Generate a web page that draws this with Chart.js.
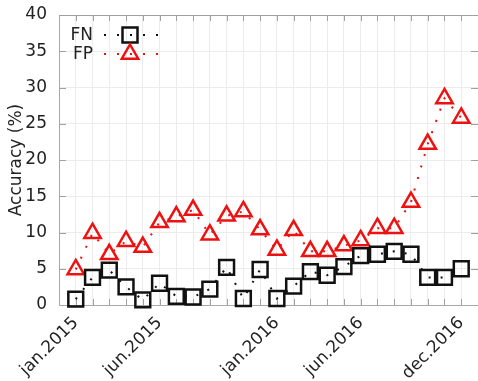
<!DOCTYPE html>
<html>
<head>
<meta charset="utf-8">
<script src="https://cdn.jsdelivr.net/npm/chart.js@4.4.1/dist/chart.umd.min.js"></script>
<style>
  html, body { margin: 0; padding: 0; background: #fff; }
  #wrap { width: 478px; height: 381px; position: relative; }
</style>
</head>
<body>
<div id="wrap"><canvas id="accChart"></canvas></div>
<script>
// monthly error rates, jan.2015 .. dec.2016
const months = ['jan.2015', 'feb.2015', 'mar.2015', 'apr.2015', 'may.2015', 'jun.2015',
    'jul.2015', 'aug.2015', 'sep.2015', 'oct.2015', 'nov.2015', 'dec.2015',
    'jan.2016', 'feb.2016', 'mar.2016', 'apr.2016', 'may.2016', 'jun.2016',
    'jul.2016', 'aug.2016', 'sep.2016', 'oct.2016', 'nov.2016', 'dec.2016'];
const fnValues = [0.8, 3.8, 4.8, 2.5, 0.7, 3.0, 1.2, 1.1, 2.2, 5.2, 0.9, 4.9,
    0.9, 2.6, 4.6, 4.1, 5.3, 6.8, 7.0, 7.4, 7.0, 3.8, 3.8, 5.0];
const fpValues = [4.9, 9.9, 7.0, 8.8, 8.0, 11.4, 12.2, 13.1, 9.7, 12.3, 12.9, 10.4,
    7.6, 10.3, 7.4, 7.4, 8.2, 8.9, 10.6, 10.6, 14.2, 22.2, 28.5, 25.8];
const tickIndex = [0, 5, 12, 17, 23];
const tickLabels = ['jan.2015', 'jun.2015', 'jan.2016', 'jun.2016', 'dec.2016'];

const FONT = '"DejaVu Sans", sans-serif';
const RED = '#ee1111';
const BLACK = '#111111';

const toPoints = vals => vals.map((v, i) => ({ x: i, y: v }));

// gnuplot style frame: top border and inward tick marks on all four sides
const framePlugin = {
    id: 'frame',
    beforeDatasetsDraw(chart) {
        const { ctx, chartArea: a, scales } = chart;
        ctx.save();
        ctx.strokeStyle = '#a0a0a0';
        ctx.lineWidth = 1;
        ctx.beginPath();
        ctx.moveTo(a.left, a.top + 0.5);
        ctx.lineTo(a.right, a.top + 0.5);
        for (let i = 0; i < months.length; i++) {
            const px = Math.round(scales.x.getPixelForValue(i)) + 0.5;
            ctx.moveTo(px, a.top);
            ctx.lineTo(px, a.top + 6);
            ctx.moveTo(px, a.bottom);
            ctx.lineTo(px, a.bottom - 6);
        }
        for (let v = 5; v < 40; v += 5) {
            const py = Math.round(scales.y.getPixelForValue(v)) + 0.5;
            ctx.moveTo(a.left, py);
            ctx.lineTo(a.left + 7, py);
            ctx.moveTo(a.right, py);
            ctx.lineTo(a.right - 7, py);
        }
        ctx.stroke();
        ctx.restore();
    }
};

// key in the top left corner: label, dotted sample, marker
const keyPlugin = {
    id: 'key',
    afterDraw(chart) {
        const ctx = chart.ctx;
        const rows = [
            { label: 'FN', color: BLACK, y: 35, shape: 'rect' },
            { label: 'FP', color: RED, y: 54, shape: 'triangle' }
        ];
        ctx.save();
        rows.forEach(r => {
            ctx.font = '17px ' + FONT;
            ctx.fillStyle = '#222';
            ctx.textAlign = 'right';
            ctx.textBaseline = 'middle';
            ctx.fillText(r.label, 93, r.y + 1);

            ctx.strokeStyle = r.color;
            ctx.lineWidth = 2;
            ctx.setLineDash([2, 11]);
            ctx.beginPath();
            ctx.moveTo(104, r.y);
            ctx.lineTo(160, r.y);
            ctx.stroke();
            ctx.setLineDash([]);

            ctx.lineWidth = 2.5;
            ctx.beginPath();
            if (r.shape === 'rect') {
                ctx.rect(130 - 7.5, r.y - 7.5, 15, 15);
            } else {
                const rad = 9.5;
                ctx.moveTo(130, r.y - rad);
                ctx.lineTo(130 + rad * 0.866, r.y + rad / 2);
                ctx.lineTo(130 - rad * 0.866, r.y + rad / 2);
                ctx.closePath();
            }
            ctx.stroke();
        });
        ctx.restore();
    }
};

document.addEventListener('DOMContentLoaded', () => {
    const ctx = document.getElementById('accChart');
    new Chart(ctx, {
        type: 'line',
        data: {
            datasets: [{
                label: 'FN',
                data: toPoints(fnValues),
                borderColor: BLACK,
                borderWidth: 2,
                borderDash: [2, 10],
                fill: false,
                clip: false,
                pointStyle: 'rect',
                pointRadius: 10.5,
                pointBorderWidth: 2.5,
                pointBorderColor: BLACK,
                pointBackgroundColor: 'rgba(0,0,0,0)'
            }, {
                label: 'FP',
                data: toPoints(fpValues),
                borderColor: RED,
                borderWidth: 2,
                borderDash: [2, 10],
                fill: false,
                clip: false,
                pointStyle: 'triangle',
                pointRadius: 9.5,
                pointBorderWidth: 2.5,
                pointBorderColor: RED,
                pointBackgroundColor: 'rgba(0,0,0,0)'
            }]
        },
        options: {
            responsive: true,
            maintainAspectRatio: false,
            animation: false,
            devicePixelRatio: 1,
            layout: {
                autoPadding: false,
                padding: { top: 15, right: 0, left: 0, bottom: 0 }
            },
            plugins: {
                legend: { display: false },
                tooltip: { enabled: false }
            },
            scales: {
                x: {
                    type: 'linear',
                    min: -1,
                    max: 24,
                    afterFit: s => {
                        s.height = 76;
                        s.paddingLeft = 0;
                        s.paddingRight = 0;
                    },
                    border: { color: '#a8a8a8' },
                    grid: { color: '#ececec', drawTicks: false },
                    ticks: {
                        stepSize: 1,
                        autoSkip: false,
                        minRotation: 45,
                        maxRotation: 45,
                        padding: 8,
                        color: '#222',
                        font: { family: FONT, size: 17 },
                        callback: v => {
                            const k = tickIndex.indexOf(v);
                            return k >= 0 ? tickLabels[k] : '';
                        }
                    }
                },
                y: {
                    min: 0,
                    max: 40,
                    afterFit: s => {
                        s.width = 59;
                        s.paddingTop = 0;
                        s.paddingBottom = 0;
                    },
                    border: { color: '#a8a8a8' },
                    grid: { color: '#ececec', drawTicks: false },
                    ticks: {
                        stepSize: 5,
                        padding: 12,
                        color: '#222',
                        font: { family: FONT, size: 17 }
                    },
                    title: {
                        display: true,
                        text: 'Accuracy (%)',
                        color: '#222',
                        padding: { top: 6, bottom: 0 },
                        font: { family: FONT, size: 17 }
                    }
                }
            }
        },
        plugins: [framePlugin, keyPlugin]
    });
});
</script>
</body>
</html>
